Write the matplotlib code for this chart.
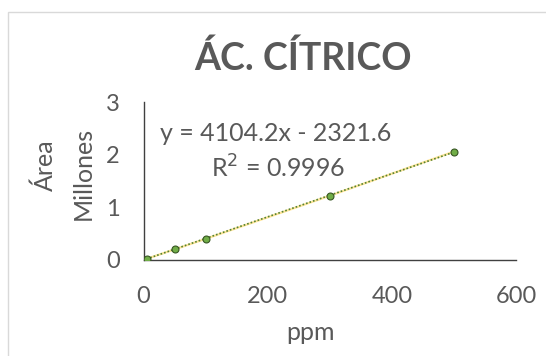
import matplotlib.pyplot as plt
from matplotlib.patches import Rectangle
import numpy as np

# datos de calibración
ppm = [5, 50, 100, 300, 500]
area_mill = [0.02, 0.2, 0.4, 1.22, 2.06]
slope = 4104.2
intercept = -2321.6
x_ticks = [0, 200, 400, 600]
y_ticks = [0, 1, 2, 3]

plt.rcParams['font.family'] = ['Lato', 'DejaVu Sans']
gris = '#595959'

fig = plt.figure(figsize=(5.46, 3.56), dpi=100)
ax = fig.add_axes([0.263, 0.270, 0.682, 0.443])

# marco del gráfico
fig.patches.append(Rectangle((8 / 546, -0.1), 1.2, 1 - 12 / 356 + 0.1, transform=fig.transFigure,
                             fill=False, edgecolor='#d9d9d9', lw=1.0))

ax.plot(ppm, area_mill, color='#ffe699', lw=1.6, zorder=2)
xt = np.array([ppm[0], ppm[-1]])
ax.plot(xt, (slope * xt + intercept) / 1e6, color='#548235', lw=1.2, ls=(0, (1, 1.2)), zorder=3)
ax.plot(ppm, area_mill, 'o', ms=5, mfc='#70ad47', mec='#375623', mew=0.8, zorder=4)

ax.set_xlim(0, 600)
ax.set_ylim(0, 3)
ax.set_xticks(x_ticks)
ax.set_yticks(y_ticks)
ax.tick_params(length=0, labelsize=17, labelcolor=gris)
ax.tick_params(axis='x', pad=19)
ax.tick_params(axis='y', pad=17)
for s in ['top', 'right']:
    ax.spines[s].set_visible(False)
for s in ['left', 'bottom']:
    ax.spines[s].set_color('#404040')
    ax.spines[s].set_linewidth(1.0)

fig.text(303 / 546, 1 - 58 / 356, 'ÁC. CÍTRICO', ha='center', va='center',
         fontsize=27, fontweight='bold', color=gris)
fig.text(310 / 546, 1 - 333 / 356, 'ppm', ha='center', va='center', fontsize=18, color=gris)
fig.text(45 / 546, 1 - 165 / 356, 'Área', ha='center', va='center', rotation=90, fontsize=18, color=gris)
fig.text(83 / 546, 1 - 173 / 356, 'Millones', ha='center', va='center', rotation=90, fontsize=18, color=gris)
fig.text(276 / 546, 1 - 133 / 356, 'y = 4104.2x - 2321.6', ha='center', va='center', fontsize=18, color=gris)
fig.text(278 / 546, 1 - 168 / 356, 'R$^2$ = 0.9996', ha='center', va='center', fontsize=18, color=gris)

fig.savefig('out.png', dpi=100)
